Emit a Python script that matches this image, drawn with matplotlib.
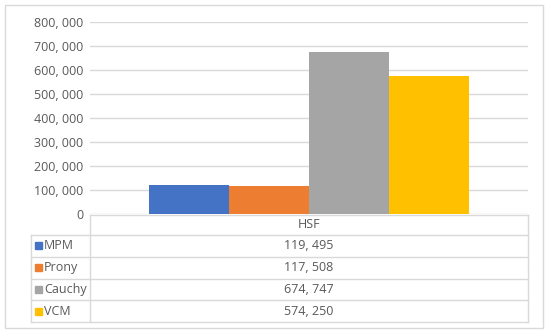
import matplotlib.pyplot as plt
from matplotlib.patches import Rectangle

categories = ["HSF"]
series = ["MPM", "Prony", "Cauchy", "VCM"]
values = [119495, 117508, 674747, 574250]
colors = ["#4472c4", "#ed7d31", "#a5a5a5", "#ffc000"]
yticks = [0, 100000, 200000, 300000, 400000, 500000, 600000, 700000, 800000]

W, H = 550, 336
txt = "#595959"
grid = "#d9d9d9"
plt.rcParams['font.family'] = ['Open Sans', 'DejaVu Sans']


def fmt(v):
    return "{:,}".format(v).replace(",", ", ")


def px(x0, y0, x1, y1):
    return [x0 / W, 1 - y1 / H, (x1 - x0) / W, (y1 - y0) / H]


fig = plt.figure(figsize=(5.5, 3.36), dpi=100)
fig.add_artist(Rectangle((5 / W, 1 - 328 / H), 538 / W, 323 / H, transform=fig.transFigure,
                         fill=False, edgecolor=grid, linewidth=1))

ax = fig.add_axes(px(90, 22, 528, 214))
bw = 80 / 438
for i, (s, v, c) in enumerate(zip(series, values, colors)):
    ax.bar((i - 1.5) * bw, v, width=bw, color=c, label=s, zorder=3)
ax.set_xlim(-0.5, 0.5)
ax.set_ylim(0, 800000)
ax.set_yticks(yticks)
ax.set_yticklabels([fmt(t) for t in yticks], color=txt, fontsize=9)
ax.set_xticks([])
ax.tick_params(axis='y', length=0, pad=5)
ax.grid(axis='y', color=grid, linewidth=1, zorder=0)
for sp in ax.spines.values():
    sp.set_visible(False)

# data table under the axis
tx = fig.add_axes([0, 0, 1, 1], facecolor='none')
tx.set_xlim(0, W)
tx.set_ylim(H, 0)
tx.axis('off')
left, mid, right = 31, 90, 528
top, head = 215, 235
rh = 21.75
bottom = head + rh * len(series)
lc = dict(color=grid, linewidth=1)
tx.plot([mid, right], [top, top], **lc)
tx.plot([mid, mid], [top, bottom], **lc)
tx.plot([right, right], [top, bottom], **lc)
tx.plot([left, left], [head, bottom], **lc)
for k in range(len(series) + 1):
    y = head + rh * k
    tx.plot([left, right], [y, y], **lc)
cx = (mid + right) / 2
tx.text(cx, (top + head) / 2, categories[0], ha='center', va='center', color=txt, fontsize=9)
for k, (s, v, c) in enumerate(zip(series, values, colors)):
    yc = head + rh * (k + 0.5)
    tx.add_patch(Rectangle((35, yc - 3.5), 7, 7, color=c))
    tx.text(44, yc, s, ha='left', va='center', color=txt, fontsize=9)
    tx.text(cx, yc, fmt(v), ha='center', va='center', color=txt, fontsize=9)

fig.savefig("out.png", dpi=100)
